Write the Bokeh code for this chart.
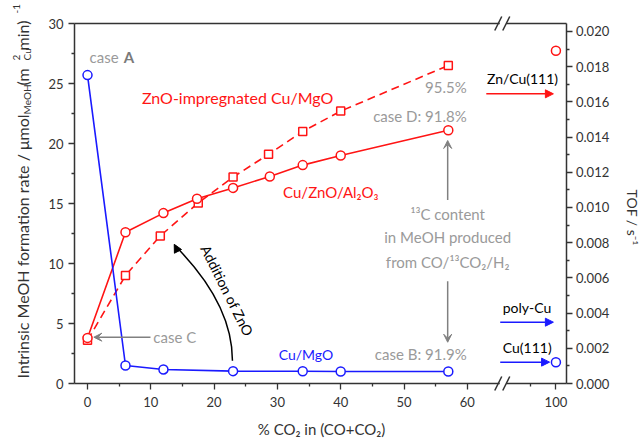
import math
from bokeh.plotting import figure
from bokeh.models import (Range1d, LinearAxis, FixedTicker, PrintfTickFormatter,
                          Label, Arrow, NormalHead, VeeHead)
from bokeh.embed import file_html
from bokeh.resources import INLINE

# ---------------- data ----------------
# Cu/MgO (blue, solid, circles)
co2_cu_mgo = [0, 6, 12, 23, 34, 40, 57]
rate_cu_mgo = [25.7, 1.5, 1.17, 1.03, 1.02, 1.0, 1.0]
# Cu/ZnO/Al2O3 (red, solid, circles)
co2_cu_zno_al = [0, 6, 12, 17.3, 23, 28.8, 34, 40, 57]
rate_cu_zno_al = [3.8, 12.6, 14.2, 15.4, 16.3, 17.25, 18.2, 19.0, 21.1]
# ZnO-impregnated Cu/MgO (red, dashed, squares)
co2_zno_imp = [0, 6, 11.5, 17.5, 23, 28.6, 34, 40, 57]
rate_zno_imp = [3.6, 9.0, 12.3, 15.05, 17.2, 19.1, 21.0, 22.7, 26.5]
# single crystal TOF points at 100 % CO2 (right axis)
co2_tof = [100]
tof_zn_cu111 = [0.0189]
tof_cu111 = [0.00121]

x_major_ticks = [0, 10, 20, 30, 40, 50, 60, 100]
x_minor_ticks = [5, 15, 25, 35, 45, 55, 95]
y_major_ticks = [0, 5, 10, 15, 20, 25, 30]
y_minor_ticks = [2.5, 7.5, 12.5, 17.5, 22.5, 27.5]
tof_major_ticks = [0.000, 0.002, 0.004, 0.006, 0.008, 0.010, 0.012, 0.014, 0.016, 0.018, 0.020]
tof_minor_ticks = [0.001, 0.003, 0.005, 0.007, 0.009, 0.011, 0.013, 0.015, 0.017, 0.019]

# ---------------- layout constants ----------------
W, H = 640, 438
PX_X = 6.33           # px per x unit
X0_PX = 87.0          # canvas px of x = 0
PX_Y = 12.0           # px per y unit
Y0_PX = 383.0         # canvas px of y = 0
FRAME_X = (-2.05, 75.75)   # visible plot box (axis coords)
Y_TOP = 30.0
TOF_TOP = 0.02045

# broken x axis mapping
BREAK_AT = 65.6
RIGHT_REF = 100.0
RIGHT_REF_POS = 74.0
RIGHT_SCALE = 0.812


def axis_x(x):
    return x if x <= BREAK_AT else RIGHT_REF_POS + (x - RIGHT_REF) * RIGHT_SCALE


def mapx(xs):
    return [axis_x(v) for v in xs]


X_LO, X_HI = -X0_PX / PX_X, (W - X0_PX) / PX_X
Y_LO, Y_HI = -(H - Y0_PX) / PX_Y, Y0_PX / PX_Y

RED = "#ff1414"
BLUE = "#1a1aff"
GREY = "#9a9a9a"
DARK = "#333333"
FONT = "Lato"

p = figure(width=W, height=H, output_backend="svg", toolbar_location=None,
           x_range=Range1d(X_LO, X_HI), y_range=Range1d(Y_LO, Y_HI),
           x_axis_location=None, y_axis_location=None,
           min_border_left=0, min_border_right=0, min_border_top=0, min_border_bottom=0)
p.extra_y_ranges = {"tof": Range1d(Y_LO / Y_TOP * TOF_TOP, Y_HI / Y_TOP * TOF_TOP)}
p.xgrid.visible = False
p.ygrid.visible = False
p.outline_line_color = None
p.background_fill_color = "white"
p.border_fill_color = "white"

xaxis = LinearAxis(fixed_location=0, bounds=FRAME_X)
yaxis = LinearAxis(fixed_location=FRAME_X[0], bounds=(0, Y_TOP))
raxis = LinearAxis(y_range_name="tof", fixed_location=FRAME_X[1], bounds=(0, TOF_TOP))
taxis = LinearAxis(fixed_location=Y_TOP, bounds=FRAME_X, ticker=FixedTicker(ticks=[]))
p.add_layout(xaxis, "below")
p.add_layout(yaxis, "left")
p.add_layout(raxis, "right")
p.add_layout(taxis, "above")

for ax in [xaxis, yaxis, raxis, taxis]:
    ax.axis_line_width = 1.5
    ax.axis_line_color = DARK
    ax.major_tick_line_color = DARK
    ax.minor_tick_line_color = DARK
    ax.major_tick_line_width = 1.3
    ax.minor_tick_line_width = 1.3
    ax.major_tick_in = 0
    ax.major_tick_out = 6
    ax.minor_tick_in = 0
    ax.minor_tick_out = 3
    ax.major_label_text_font = FONT
    ax.major_label_text_font_size = "13px"
    ax.major_label_text_color = DARK

xaxis.ticker = FixedTicker(ticks=mapx(x_major_ticks), minor_ticks=mapx(x_minor_ticks))
xaxis.major_label_overrides = {axis_x(v): str(v) for v in x_major_ticks}
xaxis.major_label_standoff = 7
yaxis.ticker = FixedTicker(ticks=y_major_ticks, minor_ticks=y_minor_ticks)
yaxis.major_label_standoff = 5
raxis.ticker = FixedTicker(ticks=tof_major_ticks, minor_ticks=tof_minor_ticks)
raxis.formatter = PrintfTickFormatter(format="%.3f")
raxis.major_label_standoff = 3

# ---------------- series ----------------
p.line(mapx(co2_zno_imp), rate_zno_imp, line_color=RED, line_width=1.6, line_dash="8 5")
p.line(mapx(co2_cu_zno_al), rate_cu_zno_al, line_color=RED, line_width=1.6)
p.line(mapx(co2_cu_mgo), rate_cu_mgo, line_color=BLUE, line_width=1.6)
p.scatter(mapx(co2_zno_imp), rate_zno_imp, marker="square", size=8,
          fill_color="white", line_color=RED, line_width=1.5)
p.scatter(mapx(co2_cu_zno_al), rate_cu_zno_al, marker="circle", size=9,
          fill_color="white", line_color=RED, line_width=1.5)
p.scatter(mapx(co2_cu_mgo), rate_cu_mgo, marker="circle", size=9,
          fill_color="white", line_color=BLUE, line_width=1.5)
p.scatter(mapx(co2_tof), tof_zn_cu111, y_range_name="tof", marker="circle", size=9,
          fill_color="white", line_color=RED, line_width=1.5)
p.scatter(mapx(co2_tof), tof_cu111, y_range_name="tof", marker="circle", size=9,
          fill_color="white", line_color=BLUE, line_width=1.5)


# ---------------- annotations ----------------
def lab(x, y, text, color=GREY, size="15px", align="left", baseline="middle",
        angle=0.0, style="normal"):
    p.add_layout(Label(x=x, y=y, text=text, text_color=color, text_font=FONT,
                       text_font_size=size, text_align=align, text_baseline=baseline,
                       angle=angle, text_font_style=style))


def arrow(x0, y0, x1, y1, color, head="normal"):
    if head == "normal":
        h = NormalHead(size=8, fill_color=color, line_color=color, line_width=1)
    else:
        h = VeeHead(size=8, fill_color=color, line_color=color, line_width=1)
    p.add_layout(Arrow(x_start=x0, y_start=y0, x_end=x1, y_end=y1, end=h,
                       line_color=color, line_width=1.5))


lab(0.32, 27.17, "case")
lab(5.73, 27.17, "A", color="#7a7a7a", style="bold")
lab(8.6, 23.86, "ZnO-impregnated Cu/MgO", color=RED, size="16px")
lab(59.9, 24.75, "95.5%", align="right")
lab(59.9, 22.33, "case D: 91.8%", align="right")
lab(63.1, 25.42, "Zn/Cu(111)", color="black", size="14px")
arrow(63.0, 24.14, 73.6, 24.14, RED)
lab(30.9, 15.94, "Cu/ZnO/Al₂O₃", color=RED, size="15px")
arrow(56.9, 15.3, 56.9, 20.25, "#808080", head="vee")
lab(56.9, 14.14, "¹³C content", align="center")
lab(56.9, 12.19, "in MeOH produced", align="center")
lab(56.9, 10.1, "from CO/¹³CO₂/H₂", align="center")
arrow(56.9, 8.53, 56.9, 3.44, "#808080", head="vee")
lab(59.9, 2.42, "case B: 91.9%", align="right")
lab(65.6, 6.36, "poly-Cu", color="black", size="14px")
arrow(65.2, 5.11, 73.6, 5.11, BLUE)
lab(65.6, 3.03, "Cu(111)", color="black", size="14px")
arrow(65.2, 1.78, 73.0, 1.78, BLUE)
lab(10.4, 3.86, "case C")
arrow(9.95, 3.86, 1.0, 3.86, "#808080", head="vee")
lab(30.2, 2.42, "Cu/MgO", color=BLUE, size="14px")

# curved "Addition of ZnO" arrow
p.quadratic(x0=[22.9], y0=[1.9], x1=[13.8], y1=[11.5], cx=[22.9], cy=[6.67],
            line_color="black", line_width=1.5)
arrow(14.3, 11.0, 13.7, 11.6, "black")
lab(22.07, 7.75, "Addition of ZnO", color="black", size="14px", align="center", angle=-1.107)

# axis break marks ("//") on bottom and top lines
bx = BREAK_AT
for yb in (0.0, Y_TOP):
    gap = p.quad(left=[bx - 3.0 / PX_X], right=[bx + 3.5 / PX_X],
                 bottom=[yb - 2.0 / PX_Y], top=[yb + 2.0 / PX_Y],
                 fill_color="white", line_color=None)
    gap.level = "overlay"
    for dx in (-4.0, 4.0):
        s = p.segment(x0=[bx + (dx - 4.0) / PX_X], y0=[yb - 7.0 / PX_Y],
                      x1=[bx + (dx + 3.0) / PX_X], y1=[yb + 7.0 / PX_Y],
                      line_color=DARK, line_width=1.5)
        s.level = "overlay"

# axis titles
YLX = (21.5 - X0_PX) / PX_X
SUB = 5.0 / PX_X
SUP = -6.0 / PX_X
rot = math.pi / 2
lab(YLX, 0.42, "Intrinsic MeOH formation rate / μmol", color=DARK, size="16px", angle=rot)
lab(YLX + SUB, 22.42, "MeOH", color=DARK, size="10px", angle=rot)
lab(YLX, 24.83, "(m", color=DARK, size="16px", angle=rot)
lab(YLX + SUP, 26.92, "2", color=DARK, size="10px", angle=rot)
lab(YLX + SUB, 26.92, "Cu", color=DARK, size="10px", angle=rot)
lab(YLX, 27.75, " min)", color=DARK, size="16px", angle=rot)
lab(YLX + SUP, 30.83, "-1", color=DARK, size="10px", angle=rot)

lab(36.97, -3.75, "% CO₂ in (CO+CO₂)", color=DARK, align="center")
lab((632 - X0_PX) / PX_X, 13.83, "TOF / s⁻¹", color=DARK, size="14px",
    align="center", angle=-math.pi / 2)

open("out.html", "w").write(file_html(p, INLINE))
